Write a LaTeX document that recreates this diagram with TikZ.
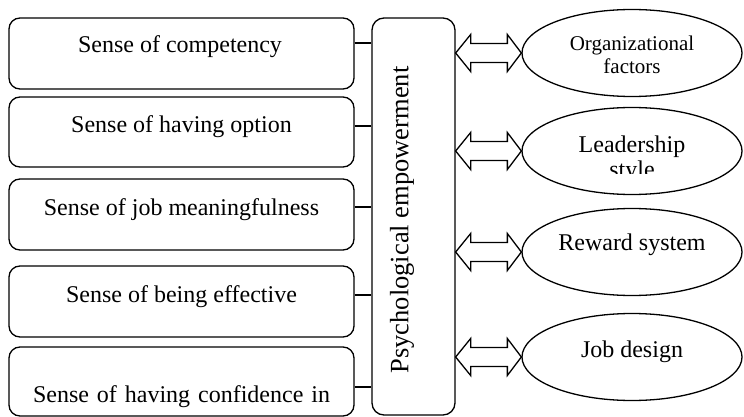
\documentclass[tikz,border=0pt]{standalone}
\usepackage{fontspec}
\setmainfont{Liberation Serif}
\usetikzlibrary{shapes.geometric,calc}

\begin{document}
\begin{tikzpicture}[x=1pt,y=-1pt,line width=1.3pt,
    sensebox/.style={draw,rounded corners=11pt,minimum width=345pt,inner sep=0pt},
    factor/.style={draw,ellipse,minimum width=220pt,minimum height=87pt,inner sep=0pt},
    bigtext/.style={font=\fontsize{24}{25}\selectfont}]
    \useasboundingbox (0,0) rectangle (744,417);
    % left column of senses
    \node[sensebox,minimum height=71pt] (b1) at (181.5,53.5) {};
    \node[sensebox,minimum height=70pt] (b2) at (181.5,132) {};
    \node[sensebox,minimum height=71pt] (b3) at (181.5,214.5) {};
    \node[sensebox,minimum height=71pt] (b4) at (181.5,301.5) {};
    \node[sensebox,minimum height=69pt] (b5) at (181.5,381.5) {};
    \node[bigtext,anchor=base] (t1) at (180,53) {Sense of competency};
    \node[bigtext,anchor=base] (t2) at (181.5,133) {Sense of having option};
    \node[bigtext,anchor=base] (t3) at (181.5,215) {Sense of job meaningfulness};
    \node[bigtext,anchor=base] (t4) at (181.5,302) {Sense of being effective};
    \node[bigtext,anchor=base] (t5) at (181.5,402) {\makebox[297pt][s]{Sense of having confidence in}};
    % central box
    \node[draw,rounded corners=12pt,minimum width=83pt,minimum height=397pt,inner sep=0pt] (pe) at (413.5,216.5) {};
    \node[font=\fontsize{26.5}{28}\selectfont,rotate=90] (pet) at (402,220) {Psychological empowerment};
    \draw ([yshift=10.5pt]b1.east) -- ([yshift=10.5pt]b1.east -| pe.west);
    \draw ([yshift=6pt]b2.east) -- ([yshift=6pt]b2.east -| pe.west);
    \draw ([yshift=7.5pt]b3.east) -- ([yshift=7.5pt]b3.east -| pe.west);
    \draw ([yshift=6.5pt]b4.east) -- ([yshift=6.5pt]b4.east -| pe.west);
    \draw ([yshift=-5.5pt]b5.east) -- ([yshift=-5.5pt]b5.east -| pe.west);
    % factors
    \node[factor] (e1) at (632,53) {};
    \node[factor] (e2) at (632,151) {};
    \node[factor] (e3) at (632,252) {};
    \node[factor] (e4) at (632,357) {};
    \node[font=\fontsize{21}{23}\selectfont,align=center] (f1) at (632,54.5) {Organizational\\factors};
    \begin{scope}
      \clip (540,100) rectangle (725,173);
      \node[bigtext,align=center] (f2) at (632,159) {Leadership\\style};
    \end{scope}
    \node[bigtext,anchor=base] (f3) at (632,250) {Reward system};
    \node[bigtext,anchor=base] (f4) at (632,357) {Job design};
    % double arrows
    \foreach \e in {e1,e2,e3,e4}{
      \draw[line join=miter] (pe.east |- \e.center) -- ++(15,-18.5) -- ++(0,9)
        -- ($(\e.west)+(-14,-9.5)$) -- ++(0,-9) -- (\e.west) -- ++(-14,18.5) -- ++(0,-9)
        -- ($(pe.east |- \e.center)+(15,9.5)$) -- ++(0,9) -- cycle;
    }
\end{tikzpicture}
\end{document}
